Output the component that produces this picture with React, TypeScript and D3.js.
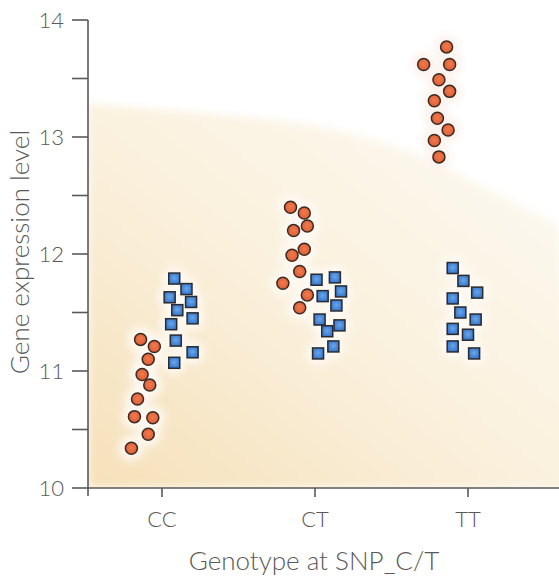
import React from "react";
import * as d3 from "d3";

const categories = ["CC", "CT", "TT"];
const yTickValues = [10, 11, 12, 13, 14];
const yMinorTicks = [10.5, 11.5, 12.5, 13.5];

// expression values (circles = series A, squares = series B) per genotype
const ccCircles = [11.27, 11.21, 11.1, 10.97, 10.88, 10.76, 10.61, 10.6, 10.46, 10.34];
const ccCirclesJitter = [-0.14, -0.05, -0.09, -0.13, -0.08, -0.16, -0.18, -0.06, -0.09, -0.2];
const ccSquares = [11.79, 11.7, 11.63, 11.59, 11.52, 11.45, 11.4, 11.26, 11.16, 11.07];
const ccSquaresJitter = [0.08, 0.16, 0.05, 0.19, 0.1, 0.2, 0.06, 0.09, 0.2, 0.08];

const ctCircles = [12.4, 12.35, 12.2, 12.24, 11.99, 12.04, 11.85, 11.75, 11.65, 11.54];
const ctCirclesJitter = [-0.16, -0.07, -0.14, -0.05, -0.15, -0.07, -0.1, -0.21, -0.05, -0.1];
const ctSquares = [11.78, 11.8, 11.64, 11.68, 11.56, 11.44, 11.34, 11.39, 11.21, 11.15];
const ctSquaresJitter = [0.01, 0.13, 0.05, 0.17, 0.14, 0.03, 0.08, 0.16, 0.12, 0.02];

const ttCircles = [13.77, 13.62, 13.62, 13.49, 13.39, 13.31, 13.16, 13.06, 12.97, 12.83];
const ttCirclesJitter = [-0.14, -0.29, -0.12, -0.19, -0.12, -0.22, -0.2, -0.13, -0.22, -0.19];
const ttSquares = [11.88, 11.77, 11.67, 11.62, 11.5, 11.44, 11.36, 11.31, 11.21, 11.15];
const ttSquaresJitter = [-0.1, -0.03, 0.06, -0.1, -0.05, 0.05, -0.1, 0, -0.1, 0.04];

// upper edge of the shaded background (expression units) along the x axis
const bgEdgeX = [0, 0.25, 0.5, 0.7, 0.85, 1];
const bgEdgeY = [13.28, 13.2, 13.08, 12.85, 12.55, 12.25];

const W = 559;
const H = 580;
const axisX = 88;
const axisY = 488;
const topY = 20;
const FONT = "Lato, 'Open Sans', sans-serif";
const TEXT = "#595959";

export default function App() {
  const y = d3.scaleLinear().domain([10, 14]).range([axisY, topY]);
  const x = d3.scalePoint<string>().domain(categories).range([162, 468]);
  const step = x.step();
  const xr = d3.scaleLinear().domain([0, 1]).range([axisX, W]);

  const groups = [
    { cat: "CC", circles: ccCircles, cj: ccCirclesJitter, squares: ccSquares, sj: ccSquaresJitter },
    { cat: "CT", circles: ctCircles, cj: ctCirclesJitter, squares: ctSquares, sj: ctSquaresJitter },
    { cat: "TT", circles: ttCircles, cj: ttCirclesJitter, squares: ttSquares, sj: ttSquaresJitter },
  ];

  const edgePts: [number, number][] = bgEdgeX.map((t, i) => [xr(t), y(bgEdgeY[i])]);
  const edgeLine = d3.line().curve(d3.curveMonotoneX)(edgePts) || "";
  const bgPath = `${edgeLine} L${W + 20},${axisY} L${axisX},${axisY} Z`;

  const r = 6;
  const sq = 11;

  return (
    <svg width={W} height={H} style={{ position: "absolute", left: 0, top: 0, background: "#fff" }}>
      <defs>
        <linearGradient id="bgGrad" x1="0" y1="1" x2="1" y2="0">
          <stop offset="0%" stopColor="#f6e0b9" />
          <stop offset="45%" stopColor="#faf0dc" />
          <stop offset="100%" stopColor="#fdfbf5" />
        </linearGradient>
        <radialGradient id="redGrad" cx="50%" cy="45%" r="60%">
          <stop offset="0%" stopColor="#f07a4e" />
          <stop offset="100%" stopColor="#dc5a32" />
        </radialGradient>
        <radialGradient id="blueGrad" cx="50%" cy="45%" r="65%">
          <stop offset="0%" stopColor="#6aa6ea" />
          <stop offset="100%" stopColor="#2c6fc8" />
        </radialGradient>
        <filter id="soft" x="-20%" y="-20%" width="140%" height="140%">
          <feGaussianBlur stdDeviation="4" />
        </filter>
        <filter id="halo" x="-50%" y="-50%" width="200%" height="200%">
          <feGaussianBlur stdDeviation="4" />
        </filter>
        <clipPath id="plotClip">
          <rect x={axisX} y={0} width={W - axisX} height={axisY} />
        </clipPath>
      </defs>

      <g clipPath="url(#plotClip)">
        <path d={bgPath} fill="url(#bgGrad)" filter="url(#soft)" />
        {groups.map((g) => (
          <g key={"halo" + g.cat}>
            {g.circles.map((v, i) => (
              <circle
                key={"hc" + i}
                cx={(x(g.cat) as number) + g.cj[i] * step}
                cy={y(v)}
                r={12}
                fill={g.cat === "TT" ? "#fbf2ec" : "#fefaf5"}
                filter="url(#halo)"
              />
            ))}
            {g.squares.map((v, i) => (
              <circle
                key={"hs" + i}
                cx={(x(g.cat) as number) + g.sj[i] * step}
                cy={y(v)}
                r={11}
                fill="#fefbf7"
                filter="url(#halo)"
              />
            ))}
          </g>
        ))}
      </g>

      {/* points */}
      {groups.map((g) => (
        <g key={"pts" + g.cat}>
          {g.squares.map((v, i) => (
            <rect
              key={"s" + i}
              x={(x(g.cat) as number) + g.sj[i] * step - sq / 2}
              y={y(v) - sq / 2}
              width={sq}
              height={sq}
              fill="url(#blueGrad)"
              stroke="#2b2a2c"
              strokeWidth={1.5}
            />
          ))}
          {g.circles.map((v, i) => (
            <circle
              key={"c" + i}
              cx={(x(g.cat) as number) + g.cj[i] * step}
              cy={y(v)}
              r={r}
              fill="url(#redGrad)"
              stroke="#3a2a22"
              strokeWidth={1.5}
            />
          ))}
        </g>
      ))}

      {/* y axis */}
      <line x1={axisX} x2={axisX} y1={topY} y2={axisY + 8} stroke={TEXT} strokeWidth={1.6} />
      {yTickValues.concat(yMinorTicks).map((t) => (
        <line key={"yt" + t} x1={axisX - 16} x2={axisX} y1={y(t)} y2={y(t)} stroke={TEXT} strokeWidth={1.6} />
      ))}
      {yTickValues.map((t) => (
        <text
          key={"yl" + t}
          x={axisX - 24}
          y={y(t)}
          dy="0.36em"
          textAnchor="end"
          fontFamily={FONT}
          fontWeight={300}
          fontSize={22}
          fill={TEXT}
        >
          {t}
        </text>
      ))}
      <text
        transform={`translate(20,252) rotate(-90)`}
        textAnchor="middle"
        fontFamily={FONT}
        fontWeight={300}
        fontSize={26}
        fill={TEXT}
        dy="0.35em"
      >
        Gene expression level
      </text>

      {/* x axis */}
      <line x1={axisX} x2={W} y1={axisY} y2={axisY} stroke={TEXT} strokeWidth={1.6} />
      {categories.map((c) => (
        <g key={"xt" + c}>
          <line x1={x(c)} x2={x(c)} y1={axisY} y2={axisY + 9} stroke={TEXT} strokeWidth={1.6} />
          <text
            x={x(c)}
            y={axisY + 39}
            textAnchor="middle"
            fontFamily={FONT}
            fontWeight={300}
            fontSize={22}
            fill={TEXT}
          >
            {c}
          </text>
        </g>
      ))}
      <text x={314} y={570} textAnchor="middle" fontFamily={FONT} fontWeight={300} fontSize={26} fill={TEXT}>
        Genotype at SNP_C/T
      </text>
    </svg>
  );
}
